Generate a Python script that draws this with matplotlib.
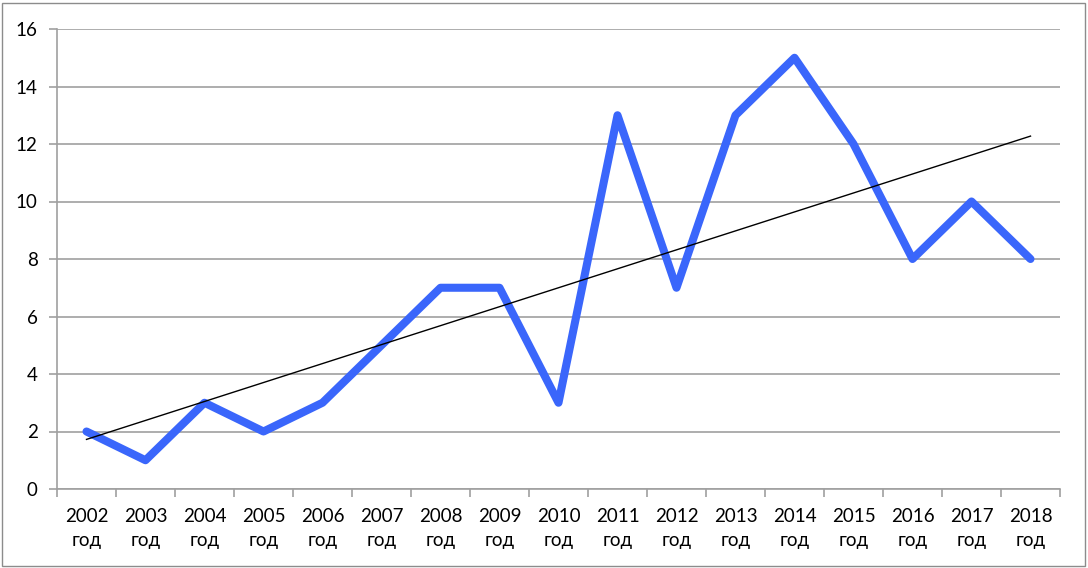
import matplotlib
matplotlib.use("Agg")
import matplotlib.pyplot as plt
import numpy as np
from matplotlib.patches import Rectangle

years = ["2002", "2003", "2004", "2005", "2006", "2007", "2008", "2009", "2010",
         "2011", "2012", "2013", "2014", "2015", "2016", "2017", "2018"]
values = [2, 1, 3, 2, 3, 5, 7, 7, 3, 13, 7, 13, 15, 12, 8, 10, 8]
labels = [f"{y}\nгод" for y in years]

plt.rcParams['font.family'] = ['Lato', 'DejaVu Sans']

fig = plt.figure(figsize=(10.88, 5.68), dpi=100)
W, H = 1088, 568
ax = fig.add_axes([57 / W, 1 - 489 / H, (1060 - 57) / W, (489 - 29) / H])

x = np.arange(len(values))
ax.plot(x, values, color='#3A66FB', lw=5.8, solid_joinstyle='round',
        solid_capstyle='round', zorder=3)
coef = np.polyfit(x, values, 1)
ax.plot(x, np.polyval(coef, x), color='black', lw=1, zorder=4)

ax.set_xlim(-0.5, len(values) - 0.5)
ax.set_ylim(0, 16)
ax.set_yticks(range(0, 17, 2))
ax.yaxis.grid(True, color='#A0A0A0', lw=1.2)
ax.set_axisbelow(True)

ax.set_xticks(x)
ax.set_xticklabels(labels, fontsize=13.5, linespacing=1.45)
ax.set_xticks(np.arange(-0.5, len(values), 1), minor=True)
ax.tick_params(axis='x', which='major', length=0, pad=14)
ax.tick_params(axis='x', which='minor', length=6, color='#A0A0A0', width=1.2)
ax.tick_params(axis='y', length=6, color='#A0A0A0', width=1.2, labelsize=13.5, pad=8)

for s in ['top', 'right']:
    ax.spines[s].set_visible(False)
for s in ['left', 'bottom']:
    ax.spines[s].set_color('#A0A0A0')
    ax.spines[s].set_linewidth(1.2)

fig.patches.append(Rectangle((2 / W, 2 / H), (1085 - 2) / W, (565 - 2) / H,
                             transform=fig.transFigure, fill=False,
                             edgecolor='#8C8C8C', lw=1))

fig.savefig("out.png", dpi=100)
